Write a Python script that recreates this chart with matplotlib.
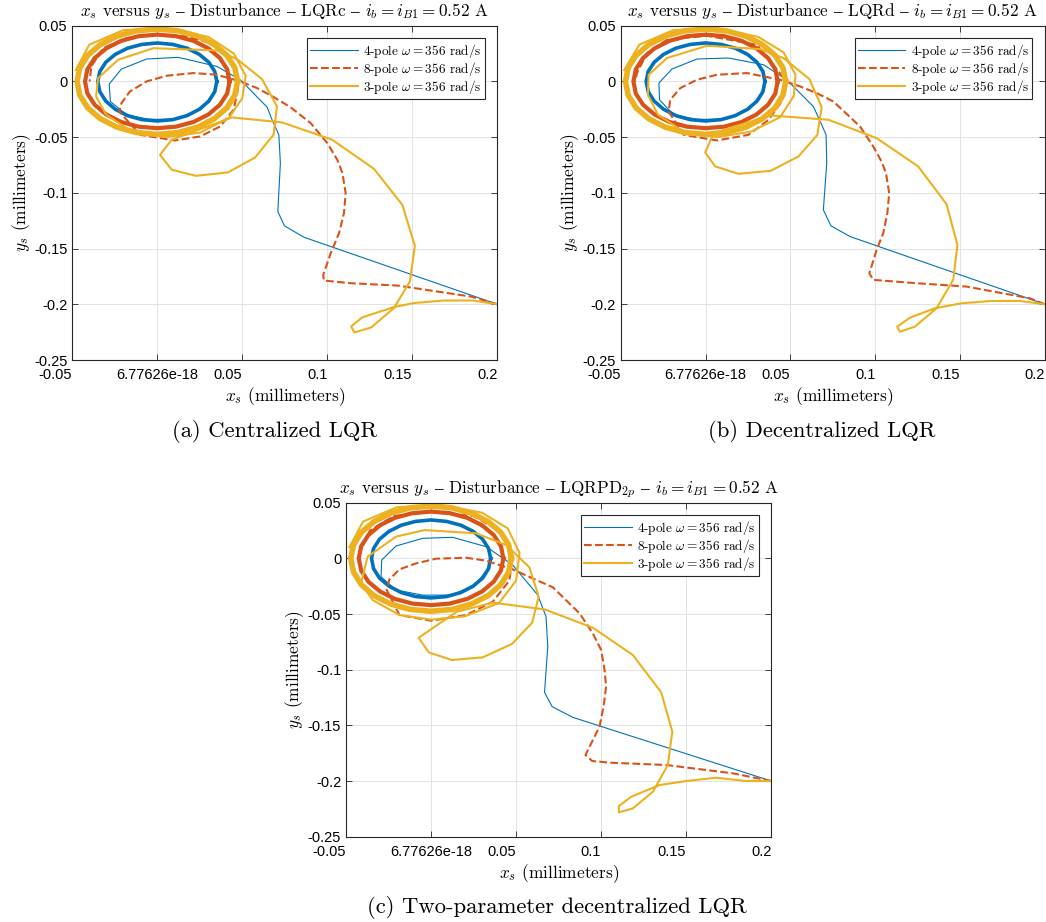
import numpy as np
import matplotlib
matplotlib.use('Agg')
import matplotlib.pyplot as plt

plt.rcParams['mathtext.fontset'] = 'cm'
serif = ['cmr10', 'DejaVu Serif']
sans = ['Liberation Sans', 'DejaVu Sans']

c_blue = '#0072BD'
c_red = '#D95319'
c_yel = '#EDB120'

# ---- data (millimeters) ----
xticks = [-0.05, 0.0, 0.05, 0.1, 0.15, 0.2]
xticklabels = ['-0.05', '6.77626e-18', '0.05', '0.1', '0.15', '0.2']
yticks = [0.05, 0.0, -0.05, -0.1, -0.15, -0.2, -0.25]
yticklabels = ['0.05', '0', '-0.05', '-0.1', '-0.15', '-0.2', '-0.25']
legend_labels = [r'4-pole $\omega = 356$ rad/s', r'8-pole $\omega = 356$ rad/s',
                 r'3-pole $\omega = 356$ rad/s']

# steady-state orbits (same in all three panels)
blue_orbit_x = [0.035, 0.0338, 0.0303, 0.0247, 0.0175, 0.0091, 0.0, -0.0091, -0.0175, -0.0247,
                -0.0303, -0.0338, -0.035, -0.0338, -0.0303, -0.0247, -0.0175, -0.0091, 0.0,
                0.0091, 0.0175, 0.0247, 0.0303, 0.0338, 0.035]
blue_orbit_y = [0.0, 0.0089, 0.0172, 0.0243, 0.0298, 0.0332, 0.0345, 0.0332, 0.0298, 0.0243,
                0.0172, 0.0089, 0.0, -0.0092, -0.0177, -0.025, -0.0307, -0.0343, -0.0355,
                -0.0343, -0.0307, -0.025, -0.0177, -0.0092, 0.0]
red_orbit_x = [0.0425, 0.0411, 0.0368, 0.03, 0.0213, 0.011, 0.0, -0.011, -0.0213, -0.03,
               -0.0368, -0.0411, -0.0425, -0.0411, -0.0368, -0.03, -0.0213, -0.011, 0.0,
               0.011, 0.0213, 0.03, 0.0368, 0.0411, 0.0425]
red_orbit_y = [0.0, 0.0109, 0.021, 0.0297, 0.0364, 0.0406, 0.042, 0.0406, 0.0364, 0.0297,
               0.021, 0.0109, 0.0, -0.0109, -0.021, -0.0297, -0.0364, -0.0406, -0.042,
               -0.0406, -0.0364, -0.0297, -0.021, -0.0109, 0.0]
yel_orbit_x = [0.0472, 0.0456, 0.0409, 0.0334, 0.0236, 0.0122, 0.0, -0.0122, -0.0236, -0.0334,
               -0.0409, -0.0456, -0.0472, -0.0456, -0.0409, -0.0334, -0.0236, -0.0122, 0.0,
               0.0122, 0.0236, 0.0334, 0.0409, 0.0456, 0.0472]
yel_orbit_y = [0.0, 0.0122, 0.0235, 0.0332, 0.0407, 0.0454, 0.047, 0.0454, 0.0407, 0.0332,
               0.0235, 0.0122, 0.0, -0.0123, -0.0238, -0.0336, -0.0411, -0.0459, -0.0475,
               -0.0459, -0.0411, -0.0336, -0.0238, -0.0123, 0.0]

# panel (a) centralized LQR
a_blue_x = [0.2, 0.0862, 0.0748, 0.0709, 0.0724, 0.0715, 0.0675, 0.0646, 0.0488, 0.035,
            0.0124, -0.0063, -0.0211, -0.0283, -0.0276, -0.0181, -0.005, 0.012, 0.026, 0.034, 0.035]
a_blue_y = [-0.2, -0.1398, -0.1296, -0.1168, -0.0734, -0.0479, -0.0344, -0.0231, 0.0015, 0.0135,
            0.0216, 0.0201, 0.0111, -0.0024, -0.018, -0.03, -0.034, -0.034, -0.025, -0.008, 0.0]
a_red_x = [0.2, 0.1846, 0.1413, 0.1138, 0.098, 0.0976, 0.102, 0.1069, 0.1098, 0.1108, 0.1089,
           0.1059, 0.1, 0.0902, 0.0783, 0.0685, 0.0587, 0.0488, 0.035, 0.0213, 0.0055, -0.0063,
           -0.0161, -0.0211, -0.0224, -0.0102, 0.0104, 0.0252, 0.037, 0.0449, 0.0478, 0.0449,
           0.035, 0.0173, 0.0, -0.0181, -0.0319, -0.0388, -0.0398]
a_red_y = [-0.2, -0.1931, -0.1832, -0.1811, -0.1787, -0.1737, -0.1542, -0.1362, -0.1183, -0.1003,
           -0.0823, -0.0704, -0.0554, -0.0374, -0.0231, -0.0141, -0.006, 0.0, 0.006, 0.0075, 0.0051,
           0.0, -0.009, -0.0195, -0.0269, -0.0479, -0.053, -0.0494, -0.0404, -0.0254, -0.0045,
           0.0165, 0.0329, 0.0404, 0.0419, 0.0389, 0.0299, 0.0135, 0.0]
a_yel_x = [0.2, 0.1854, 0.1686, 0.1509, 0.1392, 0.1205, 0.114, 0.116, 0.1258, 0.1392, 0.1486,
           0.1515, 0.1441, 0.1274, 0.1028, 0.0734, 0.044, 0.0085, 0.0016, 0.0085, 0.0228, 0.0415,
           0.0576, 0.0684, 0.0704, 0.0616, 0.0468, 0.035, -0.0024, -0.023, -0.0348, -0.036, -0.03,
           -0.015, 0.005, 0.025, 0.042, 0.05, 0.052, 0.045, 0.03, 0.005, -0.02, -0.04, -0.048]
a_yel_y = [-0.2, -0.1966, -0.1966, -0.1989, -0.2025, -0.2118, -0.2199, -0.2253, -0.2208, -0.2034,
           -0.1795, -0.1475, -0.1107, -0.0784, -0.0523, -0.0368, -0.0323, -0.0523, -0.0659, -0.0793,
           -0.0847, -0.0817, -0.0682, -0.0478, -0.0224, 0.0021, 0.0201, 0.0278, 0.0298, 0.0195,
           0.003, -0.0135, -0.03, -0.045, -0.05, -0.046, -0.033, -0.015, 0.005, 0.025, 0.04, 0.048,
           0.046, 0.033, 0.01]

# panel (b) decentralized LQR
b_blue_x = [0.2, 0.0851, 0.0739, 0.0694, 0.0714, 0.071, 0.0671, 0.0635, 0.0478, 0.0341,
            0.0135, -0.0051, -0.0198, -0.0275, -0.0271, -0.0188, -0.005, 0.012, 0.026, 0.034, 0.035]
b_blue_y = [-0.2, -0.1392, -0.1296, -0.1153, -0.0734, -0.0479, -0.0344, -0.0225, 0.0015, 0.015,
            0.021, 0.0201, 0.0111, -0.0015, -0.0165, -0.03, -0.034, -0.034, -0.025, -0.008, 0.0]
b_red_x = [0.2, 0.191, 0.1537, 0.1243, 0.0988, 0.0965, 0.1008, 0.1047, 0.1071, 0.1082, 0.1063,
           0.1037, 0.0988, 0.091, 0.0753, 0.0655, 0.0557, 0.0439, 0.0243, 0.0067, -0.0051, -0.0149,
           -0.0208, -0.0218, -0.0129, 0.0067, 0.0253, 0.0371, 0.0449, 0.0469, 0.0302, 0.0008,
           -0.0227, -0.0345, -0.0404, -0.0414]
b_red_y = [-0.2, -0.1946, -0.1841, -0.1811, -0.1781, -0.1722, -0.1512, -0.1362, -0.1183, -0.1003,
           -0.0823, -0.0719, -0.0584, -0.0404, -0.018, -0.0105, -0.0045, 0.0015, 0.0075, 0.006,
           0.0015, -0.006, -0.0165, -0.027, -0.0479, -0.053, -0.0479, -0.0344, -0.018, 0.0015,
           0.0329, 0.041, 0.0374, 0.0254, 0.0075, 0.0]
b_yel_x = [0.2, 0.1851, 0.1684, 0.1508, 0.1351, 0.1204, 0.1129, 0.1145, 0.1233, 0.1361, 0.1459,
           0.1484, 0.142, 0.1253, 0.1008, 0.0724, 0.038, 0.0047, -0.0002, 0.0057, 0.0194, 0.0384,
           0.0547, 0.0659, 0.0684, 0.0612, 0.0459, 0.0322, 0.0008, -0.0227, -0.0335, -0.034, -0.028,
           -0.013, 0.007, 0.027, 0.044, 0.052, 0.053, 0.046, 0.031, 0.006, -0.019, -0.039, -0.048]
b_yel_y = [-0.2, -0.197, -0.197, -0.1991, -0.2036, -0.212, -0.2201, -0.2246, -0.2201, -0.2036,
           -0.1781, -0.1467, -0.1102, -0.0763, -0.0509, -0.0344, -0.0305, -0.0464, -0.0638, -0.0763,
           -0.0829, -0.0802, -0.0674, -0.0479, -0.0231, 0.0021, 0.021, 0.029, 0.032, 0.021, 0.006,
           -0.012, -0.03, -0.045, -0.05, -0.045, -0.032, -0.013, 0.006, 0.026, 0.04, 0.048, 0.046,
           0.033, 0.01]

# panel (c) two-parameter decentralized LQR
c_blue_x = [0.2, 0.0833, 0.0712, 0.0667, 0.0686, 0.0676, 0.0627, 0.048, 0.0324, 0.0127,
            -0.0049, -0.0206, -0.029, -0.0294, -0.0206, -0.005, 0.012, 0.026, 0.034, 0.035]
c_blue_y = [-0.2, -0.1428, -0.1332, -0.1204, -0.0793, -0.0524, -0.0329, -0.006, 0.0105, 0.0189,
            0.018, 0.0111, -0.0015, -0.0165, -0.0284, -0.033, -0.033, -0.024, -0.008, 0.0]
c_red_x = [0.2, 0.1775, 0.1382, 0.1049, 0.0947, 0.0908, 0.0951, 0.099, 0.1014, 0.1029, 0.102,
           0.1, 0.0951, 0.0873, 0.0716, 0.0598, 0.048, 0.0324, 0.0206, 0.0029, -0.0088, -0.0186,
           -0.0245, -0.0261, -0.0186, 0.0, 0.0206, 0.0363, 0.046, 0.048, 0.04, 0.025, 0.0, -0.022,
           -0.036, -0.042]
c_red_y = [-0.2, -0.1931, -0.1856, -0.1835, -0.182, -0.1766, -0.1632, -0.1512, -0.1332, -0.1153,
           -0.1003, -0.0823, -0.0674, -0.0494, -0.026, -0.018, -0.0099, -0.0021, 0.0006, -0.0003,
           -0.0045, -0.0099, -0.0189, -0.0284, -0.0509, -0.056, -0.0509, -0.0389, -0.02, 0.002,
           0.025, 0.038, 0.042, 0.038, 0.025, 0.005]
c_yel_x = [0.2, 0.1853, 0.1676, 0.15, 0.1343, 0.1176, 0.1104, 0.1104, 0.1186, 0.1304, 0.1392,
           0.1418, 0.1353, 0.1186, 0.0951, 0.0667, 0.0363, 0.015, -0.0073, -0.0014, 0.0122, 0.0304,
           0.0475, 0.0594, 0.0633, 0.0578, 0.0441, 0.0265, -0.0039, -0.0206, -0.0373, -0.0412,
           -0.0343, -0.0186, 0.0, 0.02, 0.04, 0.05, 0.052, 0.045, 0.03, 0.005, -0.02, -0.04, -0.048]
c_yel_y = [-0.2, -0.2, -0.197, -0.2, -0.2036, -0.2141, -0.2225, -0.2281, -0.2246, -0.2096, -0.1856,
           -0.1557, -0.1204, -0.0868, -0.0623, -0.0458, -0.0398, -0.048, -0.0713, -0.0844, -0.0913,
           -0.0889, -0.0769, -0.0578, -0.0344, -0.0081, 0.012, 0.0225, 0.0254, 0.0195, 0.0015,
           -0.0225, -0.0374, -0.0509, -0.055, -0.052, -0.04, -0.02, 0.005, 0.027, 0.041, 0.048,
           0.046, 0.033, 0.01]

DASH = r'$\mathrm{–}$'


def draw_panel(ax, blue, red, yel, title):
    # transients (labelled) and the limit cycles they settle on
    ax.plot(blue[0], blue[1], color=c_blue, lw=0.8, label=legend_labels[0])
    ax.plot(blue_orbit_x, blue_orbit_y, color=c_blue, lw=2.6)
    ax.plot(red[0], red[1], color=c_red, lw=1.5, ls='--', label=legend_labels[1])
    ax.plot(red_orbit_x, red_orbit_y, color=c_red, lw=3.0)
    ax.plot(yel[0], yel[1], color=c_yel, lw=1.5, label=legend_labels[2])
    ax.plot(yel_orbit_x, yel_orbit_y, color=c_yel, lw=4.0)

    ax.set_xlim(-0.05, 0.2)
    ax.set_ylim(-0.25, 0.05)
    ax.set_xticks(xticks)
    ax.set_xticklabels(xticklabels, fontfamily=sans, fontsize=10.5)
    for lab, t in zip(ax.get_xticklabels(), xticks):
        lab.set_ha('center' if t == 0.0 else 'right')
    ax.set_yticks(yticks)
    ax.set_yticklabels(yticklabels, fontfamily=sans, fontsize=10.5)
    ax.tick_params(direction='in', top=True, right=True, length=4, width=0.6,
                   colors='#262626', labelcolor='black')
    ax.tick_params(axis='x', pad=6)
    ax.grid(True, color='#e3e3e3', lw=0.7)
    ax.set_axisbelow(True)
    for s in ax.spines.values():
        s.set_color('#262626')
        s.set_linewidth(0.8)
    ax.set_title(title, fontfamily=serif, fontsize=12.4, pad=7)
    ax.set_xlabel(r'$x_s$ (millimeters)', fontfamily=serif, fontsize=12.5, labelpad=2)
    ax.set_ylabel(r'$y_s$ (millimeters)', fontfamily=serif, fontsize=12.5, labelpad=1)
    leg = ax.legend(loc='upper right', prop={'family': serif, 'size': 9.5}, fancybox=False,
                    edgecolor='#262626', framealpha=1, borderaxespad=0.95, handlelength=3.6,
                    labelspacing=0.0, borderpad=0.25, handletextpad=0.4)
    leg.get_frame().set_linewidth(0.8)


fig = plt.figure(figsize=(10.46, 9.22), dpi=100)
W, H = 1046.0, 922.0
ax_a = fig.add_axes([72.3 / W, 1 - 360 / H, 425 / W, 334.3 / H])
ax_b = fig.add_axes([620.7 / W, 1 - 360 / H, 424.3 / W, 334.3 / H])
ax_c = fig.add_axes([346 / W, 1 - 836.7 / H, 425.3 / W, 334 / H])

draw_panel(ax_a, (a_blue_x, a_blue_y), (a_red_x, a_red_y), (a_yel_x, a_yel_y),
           r'$x_s$ versus $y_s$ ' + DASH + ' Disturbance ' + DASH + ' LQRc ' + DASH
           + r' $i_b = i_{B1} = 0.52$ A')
draw_panel(ax_b, (b_blue_x, b_blue_y), (b_red_x, b_red_y), (b_yel_x, b_yel_y),
           r'$x_s$ versus $y_s$ ' + DASH + ' Disturbance ' + DASH + ' LQRd ' + DASH
           + r' $i_b = i_{B1} = 0.52$ A')
draw_panel(ax_c, (c_blue_x, c_blue_y), (c_red_x, c_red_y), (c_yel_x, c_yel_y),
           r'$x_s$ versus $y_s$ ' + DASH + ' Disturbance ' + DASH + r' LQRPD$_{2p}$ ' + DASH
           + r' $i_b = i_{B1} = 0.52$ A')

fig.text(275 / W, 1 - 431 / H, '(a) Centralized LQR', ha='center', va='center',
         fontfamily=serif, fontsize=16.3)
fig.text(822 / W, 1 - 431 / H, '(b) Decentralized LQR', ha='center', va='center',
         fontfamily=serif, fontsize=16.3)
fig.text(557 / W, 1 - 907 / H, '(c) Two-parameter decentralized LQR', ha='center', va='center',
         fontfamily=serif, fontsize=16.3)

fig.savefig('out.png', dpi=100)
